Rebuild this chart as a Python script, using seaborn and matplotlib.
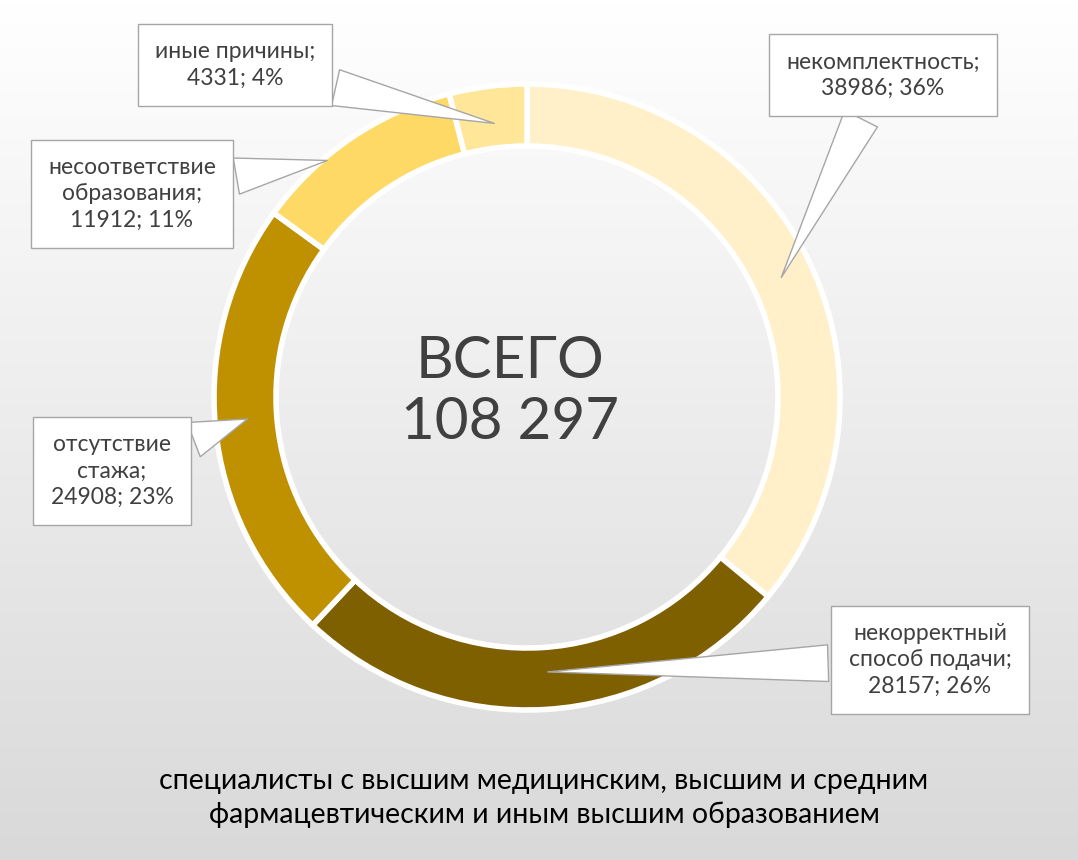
import numpy as np
import matplotlib
matplotlib.use("Agg")
import matplotlib.pyplot as plt
import seaborn as sns

# Data
categories = ["некомплектность;", "некорректный\nспособ подачи;", "отсутствие\nстажа;",
              "несоответствие\nобразования;", "иные причины;"]
values = [38986, 28157, 24908, 11912, 4331]
percents = [36, 26, 23, 11, 4]
colors = ["#FFF0C9", "#7F6000", "#BF9000", "#FFD966", "#FFE699"]
total_label = "ВСЕГО\n108 297"
caption = "специалисты с высшим медицинским, высшим и средним\nфармацевтическим и иным высшим образованием"

sns.set_style("white")
plt.rcParams["font.family"] = ["Lato", "DejaVu Sans"]

W, H = 1078, 860
fig = plt.figure(figsize=(W / 100, H / 100), dpi=100)
ax = fig.add_axes([0, 0, 1, 1])

# background gradient white -> light grey
grad = np.linspace(1.0, 0.0, 256).reshape(-1, 1)
ax.imshow(grad, extent=[0, W, 0, H], cmap=matplotlib.colors.LinearSegmentedColormap.from_list(
    "bg", ["#D9D9D9", "#FFFFFF"]), aspect="auto", zorder=0)

cx, cy, r = 527, H - 397, 313
wedges, _ = ax.pie(values, colors=colors, startangle=90, counterclock=False,
                   center=(cx, cy), radius=r, frame=True,
                   wedgeprops=dict(width=62, edgecolor="white", linewidth=4))
for w in wedges:
    w.set_zorder(2)
ax.set_xlim(0, W)
ax.set_ylim(0, H)
ax.set_aspect("equal")
ax.axis("off")

ax.text(cx - 17, cy + 5, total_label, ha="center", va="center", fontsize=42,
        color="#404040", linespacing=1.2, zorder=3)

# callouts: (text center px, pointer tip px)
boxes = [((883, 75), (780, 280)), ((930, 660), (545, 672)), ((112, 471), (250, 418)),
         ((132, 194), (330, 160)), ((235, 65), (497, 124))]
for cat, v, p, ((tx, ty), (px, py)) in zip(categories, values, percents, boxes):
    ax.annotate(f"{cat}\n{v}; {p}%", xy=(px, H - py), xytext=(tx, H - ty),
                ha="center", va="center", fontsize=16.5, color="#404040", zorder=4,
                linespacing=1.3,
                bbox=dict(boxstyle="square,pad=0.75", fc="white", ec="#A6A6A6", lw=1),
                arrowprops=dict(arrowstyle="wedge,tail_width=1.6,shrink_factor=0.5",
                                fc="white", ec="#A6A6A6", lw=1))

ax.text(W / 2 + 5, H - 798, caption, ha="center", va="center", fontsize=20.5,
        color="black", linespacing=1.35, zorder=3)

fig.savefig("out.png", dpi=100)
